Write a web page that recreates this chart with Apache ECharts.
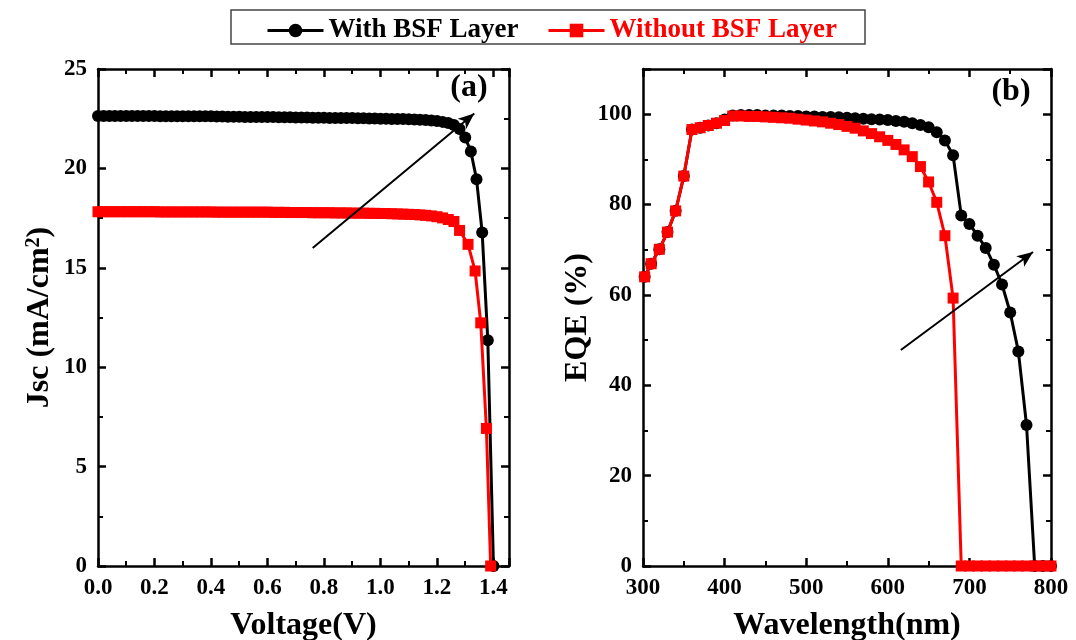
<!DOCTYPE html>
<html>
<head>
<meta charset="utf-8">
<script src="https://cdn.jsdelivr.net/npm/echarts@6/dist/echarts.min.js"></script>
<style>
  html, body { margin: 0; padding: 0; background: #fff; }
  #chart { width: 1076px; height: 640px; }
</style>
</head>
<body>
<div id="chart"></div>
<script>
// (a) J-V curves: voltage (V) and short-circuit current density (mA/cm^2)
const voltageWith = [
  0.00,0.02,0.04,0.06,0.08,0.10,0.12,0.14,0.16,0.18,0.20,
  0.22,0.24,0.26,0.28,0.30,0.32,0.34,0.36,0.38,0.40,
  0.42,0.44,0.46,0.48,0.50,0.52,0.54,0.56,0.58,0.60,
  0.62,0.64,0.66,0.68,0.70,0.72,0.74,0.76,0.78,0.80,
  0.82,0.84,0.86,0.88,0.90,0.92,0.94,0.96,0.98,1.00,
  1.02,1.04,1.06,1.08,1.10,1.12,1.14,1.16,1.18,1.20,1.22,1.24,
  1.26,1.28,1.30,1.32,1.34,1.36,1.38,1.40
];
const jscWith = [
  22.63,22.63,22.63,22.63,22.63,22.63,22.63,22.63,22.63,22.63,22.63,
  22.62,22.62,22.62,22.62,22.62,22.62,22.62,22.62,22.62,22.62,
  22.61,22.61,22.60,22.60,22.60,22.59,22.59,22.59,22.58,22.58,
  22.58,22.57,22.57,22.57,22.56,22.56,22.56,22.55,22.55,22.55,
  22.54,22.54,22.54,22.53,22.53,22.52,22.52,22.51,22.51,22.50,
  22.50,22.49,22.49,22.48,22.47,22.46,22.45,22.43,22.41,22.38,22.34,22.28,
  22.18,21.98,21.55,20.85,19.46,16.78,11.35,0.00
];
const voltageWithout = [
  0.00,0.02,0.04,0.06,0.08,0.10,0.12,0.14,0.16,0.18,0.20,
  0.22,0.24,0.26,0.28,0.30,0.32,0.34,0.36,0.38,0.40,
  0.42,0.44,0.46,0.48,0.50,0.52,0.54,0.56,0.58,0.60,
  0.62,0.64,0.66,0.68,0.70,0.72,0.74,0.76,0.78,0.80,
  0.82,0.84,0.86,0.88,0.90,0.92,0.94,0.96,0.98,1.00,
  1.02,1.04,1.06,1.08,1.10,1.12,1.14,1.16,1.18,1.20,1.22,1.24,
  1.26,1.28,1.31,1.335,1.355,1.375,1.39
];
const jscWithout = [
  17.82,17.82,17.82,17.82,17.82,17.82,17.82,17.82,17.82,17.82,17.82,
  17.81,17.81,17.81,17.81,17.81,17.81,17.81,17.81,17.81,17.81,
  17.80,17.80,17.80,17.80,17.80,17.80,17.80,17.80,17.80,17.80,
  17.79,17.79,17.79,17.78,17.78,17.78,17.78,17.77,17.77,17.77,
  17.77,17.76,17.76,17.76,17.75,17.75,17.75,17.74,17.74,17.73,
  17.73,17.72,17.71,17.70,17.69,17.68,17.66,17.64,17.61,17.57,17.51,17.43,
  17.33,16.88,16.18,14.84,12.23,6.92,0.00
];

// (b) external quantum efficiency (%) against wavelength (nm)
const wavelength = [
  302,310,320,330,340,350,360,370,380,390,400,
  410,420,430,440,450,460,470,480,490,500,
  510,520,530,540,550,560,570,580,590,600,
  610,620,630,640,650,660,670,680,690,700,
  710,720,730,740,750,760,770,780,790,800
];
const eqeWith = [
  64.0,66.9,70.1,73.9,78.6,86.3,96.6,97.0,97.5,98.0,98.8,
  99.7,99.8,99.8,99.8,99.7,99.7,99.7,99.6,99.6,99.5,
  99.5,99.4,99.4,99.3,99.2,99.1,99.0,98.9,98.8,98.7,
  98.5,98.3,98.0,97.6,97.1,96.0,94.2,90.9,77.6,75.7,
  73.1,70.4,66.7,62.3,56.1,47.5,31.2,0.0,0.0,0.0
];
const eqeWithout = [
  64.0,66.9,70.1,73.9,78.6,86.3,96.6,97.0,97.5,98.0,98.6,
  99.6,99.6,99.5,99.5,99.4,99.3,99.2,99.1,98.9,98.7,
  98.5,98.3,98.0,97.7,97.3,96.9,96.3,95.7,95.0,94.2,
  93.3,92.1,90.6,88.4,85.0,80.5,73.1,59.3,0.0,0.0,
  0.0,0.0,0.0,0.0,0.0,0.0,0.0,0.0,0.0,0.0
];

// Trend arrows (start, end) in data coordinates
const arrowA = [[0.76, 16.0], [1.332, 22.76]];
const arrowB = [[616, 47.8], [778, 69.5]];

const seriesNames = ['With BSF Layer', 'Without BSF Layer'];
const tickLabelsV = ['0.0','0.2','0.4','0.6','0.8','1.0','1.2','1.4'];

const FONT = '"Liberation Serif", "Times New Roman", serif';
const BLACK = '#000000';
const RED = '#ff0000';

const zip = (xs, ys) => xs.map((x, i) => [x, ys[i]]);

function axis(extra, labels) {
  const base = {
    type: 'value',
    axisLine: { show: true, onZero: false, lineStyle: { color: BLACK, width: 2.5 } },
    axisTick: { show: true, inside: true, length: 8, lineStyle: { color: BLACK, width: 2.5 } },
    minorTick: { show: true, splitNumber: 2, length: 5, lineStyle: { color: BLACK, width: 2 } },
    splitLine: { show: false },
    minorSplitLine: { show: false },
    axisLabel: labels ? Object.assign({
      show: true, color: BLACK, fontFamily: FONT, fontWeight: 'bold', fontSize: 23, margin: 11
    }, labels) : { show: false }
  };
  return Object.assign(base, extra);
}

const titleStyle = { color: BLACK, fontFamily: FONT, fontWeight: 'bold', fontSize: 32 };
const legendLine = { width: 3 };

const option = {
  animation: false,
  backgroundColor: '#ffffff',
  grid: [
    { left: 98, right: 567, top: 69, bottom: 74, containLabel: false, outerBoundsMode: 'none' },
    { left: 643, right: 25, top: 69, bottom: 74, containLabel: false, outerBoundsMode: 'none' }
  ],
  xAxis: [
    axis({ gridIndex: 0, position: 'bottom', min: 0, max: 1.455, interval: 0.2,
           name: 'Voltage(V)', nameLocation: 'middle', nameGap: 44, nameTextStyle: titleStyle },
         { showMaxLabel: false, formatter: v => tickLabelsV[Math.round(v / 0.2)] || '' }),
    axis({ gridIndex: 0, position: 'top', min: 0, max: 1.455, interval: 0.2 }),
    axis({ gridIndex: 1, position: 'bottom', min: 300, max: 800, interval: 100,
           name: 'Wavelength(nm)', nameLocation: 'middle', nameGap: 44, nameTextStyle: titleStyle },
         {}),
    axis({ gridIndex: 1, position: 'top', min: 300, max: 800, interval: 100 })
  ],
  yAxis: [
    axis({ gridIndex: 0, position: 'left', min: 0, max: 25, interval: 5,
           name: 'Jsc (mA/cm{sup|2})', nameLocation: 'middle', nameGap: 42,
           nameTextStyle: Object.assign({}, titleStyle, {
             rich: { sup: { fontFamily: FONT, fontWeight: 'bold', fontSize: 20, color: BLACK, padding: [0, 0, 12, 0] } }
           }) },
         {}),
    axis({ gridIndex: 0, position: 'right', min: 0, max: 25, interval: 5 }),
    axis({ gridIndex: 1, position: 'left', min: 0, max: 110, interval: 20,
           name: 'EQE (%)', nameLocation: 'middle', nameGap: 48, nameTextStyle: titleStyle },
         { showMaxLabel: false }),
    axis({ gridIndex: 1, position: 'right', min: 0, max: 110, interval: 20 })
  ],
  legend: [
    { data: [seriesNames[0]], left: 261, top: 12, itemWidth: 56, itemHeight: 17, selectedMode: false,
      lineStyle: legendLine,
      textStyle: { color: BLACK, fontFamily: FONT, fontWeight: 'bold', fontSize: 27 } },
    { data: [seriesNames[1]], left: 542, top: 12, itemWidth: 56, itemHeight: 17, selectedMode: false,
      lineStyle: legendLine,
      textStyle: { color: RED, fontFamily: FONT, fontWeight: 'bold', fontSize: 27 } }
  ],
  graphic: [
    { type: 'rect', x: 231, y: 10, shape: { width: 634, height: 34 },
      style: { fill: 'none', stroke: '#444', lineWidth: 1.5 }, z: -1 },
    { type: 'text', x: 469, y: 88,
      style: { text: '(a)', align: 'center', verticalAlign: 'middle', fill: BLACK,
               font: 'bold 32px ' + FONT } },
    { type: 'text', x: 1011, y: 92,
      style: { text: '(b)', align: 'center', verticalAlign: 'middle', fill: BLACK,
               font: 'bold 32px ' + FONT } }
  ],
  series: [
    {
      name: seriesNames[0], type: 'line', xAxisIndex: 0, yAxisIndex: 0,
      data: zip(voltageWith, jscWith),
      symbol: 'circle', symbolSize: 12,
      itemStyle: { color: BLACK }, lineStyle: { color: BLACK, width: 3 }, z: 3,
      markLine: {
        silent: true, animation: false, symbol: ['none', 'arrow'], symbolSize: [10, 16],
        lineStyle: { color: BLACK, width: 2, type: 'solid' }, label: { show: false },
        emphasis: { disabled: true },
        data: [[{ coord: arrowA[0] }, { coord: arrowA[1] }]]
      }
    },
    {
      name: seriesNames[1], type: 'line', xAxisIndex: 0, yAxisIndex: 0,
      data: zip(voltageWithout, jscWithout),
      symbol: 'rect', symbolSize: 11,
      itemStyle: { color: RED }, lineStyle: { color: RED, width: 3 }, z: 4
    },
    {
      name: seriesNames[0], type: 'line', xAxisIndex: 2, yAxisIndex: 2,
      data: zip(wavelength, eqeWith),
      symbol: 'circle', symbolSize: 12,
      itemStyle: { color: BLACK }, lineStyle: { color: BLACK, width: 3 }, z: 3,
      markLine: {
        silent: true, animation: false, symbol: ['none', 'arrow'], symbolSize: [10, 16],
        lineStyle: { color: BLACK, width: 2, type: 'solid' }, label: { show: false },
        emphasis: { disabled: true },
        data: [[{ coord: arrowB[0] }, { coord: arrowB[1] }]]
      }
    },
    {
      name: seriesNames[1], type: 'line', xAxisIndex: 2, yAxisIndex: 2,
      data: zip(wavelength, eqeWithout),
      symbol: 'rect', symbolSize: 11,
      itemStyle: { color: RED }, lineStyle: { color: RED, width: 3 }, z: 4
    }
  ]
};

const chart = echarts.init(document.getElementById('chart'), null, { renderer: 'canvas' });
chart.setOption(option);
</script>
</body>
</html>
